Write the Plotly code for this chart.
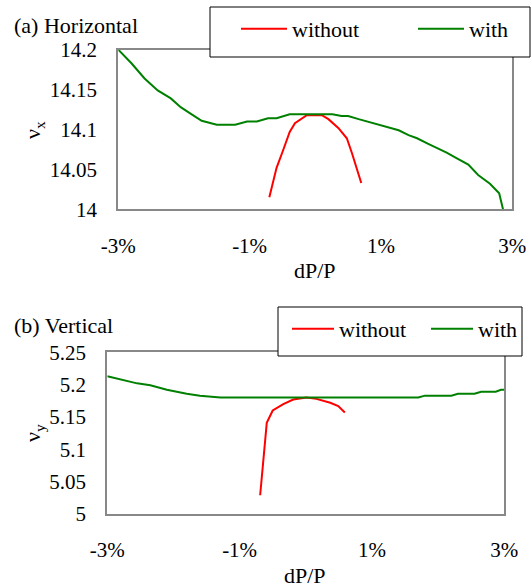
import plotly.graph_objects as go

# ---- data (dP/P in %) ----
h_with_x = [-3.0, -2.8, -2.6, -2.4, -2.2, -2.05, -1.9, -1.73, -1.5, -1.22, -1.04, -0.89, -0.72, -0.59,
            -0.39, 0.26, 0.4, 0.5, 0.66, 0.89, 1.09, 1.27, 1.42, 1.55, 1.72, 1.85, 2.0, 2.15, 2.33,
            2.48, 2.66, 2.8, 2.9]
h_with_y = [14.2, 14.183, 14.164, 14.149, 14.139, 14.128, 14.12, 14.111, 14.106, 14.106, 14.11, 14.11,
            14.114, 14.114, 14.119, 14.119, 14.117, 14.117, 14.113, 14.108, 14.103, 14.099, 14.093,
            14.089, 14.082, 14.077, 14.071, 14.064, 14.056, 14.043, 14.032, 14.02, 13.986]
h_without_x = [-0.7, -0.59, -0.49, -0.39, -0.31, -0.13, 0.1, 0.2, 0.35, 0.48, 0.56, 0.7]
h_without_y = [14.015, 14.052, 14.074, 14.097, 14.108, 14.118, 14.118, 14.113, 14.102, 14.089, 14.07, 14.033]

v_with_x = [-3.0, -2.8, -2.55, -2.35, -2.1, -1.8, -1.6, -1.29, 1.7, 1.8, 2.2, 2.3, 2.55, 2.65, 2.87, 2.95, 3.0]
v_with_y = [5.213, 5.208, 5.202, 5.199, 5.192, 5.186, 5.183, 5.18, 5.18, 5.183, 5.183, 5.186, 5.186,
            5.189, 5.189, 5.192, 5.192]
v_without_x = [-0.69, -0.59, -0.5, -0.34, -0.19, 0.01, 0.16, 0.37, 0.49, 0.59]
v_without_y = [5.029, 5.141, 5.16, 5.17, 5.177, 5.18, 5.178, 5.172, 5.167, 5.157]

x_tickvals = [-3, -1, 1, 3]
x_ticktext = ["-3%", "-1%", "1%", "3%"]
h_tickvals = [14, 14.05, 14.1, 14.15, 14.2]
h_ticktext = ["14", "14.05", "14.1", "14.15", "14.2"]
v_tickvals = [5, 5.05, 5.1, 5.15, 5.2, 5.25]
v_ticktext = ["5", "5.05", "5.1", "5.15", "5.2", "5.25"]

FONT = "Liberation Serif, Times New Roman, DejaVu Serif, serif"
FS_TICK = 21
FS = 22
W, H = 531, 587
RED = "#ff0000"
GREEN = "#008000"

fig = go.Figure()
fig.add_trace(go.Scatter(x=h_without_x, y=h_without_y, mode="lines", name="without",
                         line=dict(color=RED, width=2), xaxis="x", yaxis="y", legend="legend"))
fig.add_trace(go.Scatter(x=h_with_x, y=h_with_y, mode="lines", name="with",
                         line=dict(color=GREEN, width=2), xaxis="x", yaxis="y", legend="legend"))
fig.add_trace(go.Scatter(x=v_without_x, y=v_without_y, mode="lines", name="without",
                         line=dict(color=RED, width=2), xaxis="x2", yaxis="y2", legend="legend2"))
fig.add_trace(go.Scatter(x=v_with_x, y=v_with_y, mode="lines", name="with",
                         line=dict(color=GREEN, width=2), xaxis="x2", yaxis="y2", legend="legend2"))

axis_common = dict(showline=True, mirror=True, linecolor="#888888", linewidth=2, showgrid=False,
                   zeroline=False, ticks="", automargin=False,
                   tickfont=dict(family=FONT, size=FS_TICK, color="black"))

def px(x):
    return x / W

def py(y):
    return 1 - y / H

fig.update_layout(
    width=W, height=H, margin=dict(l=0, r=0, t=0, b=0, autoexpand=False),
    paper_bgcolor="white", plot_bgcolor="white",
    font=dict(family=FONT, size=FS, color="black"),
    xaxis=dict(domain=[px(118.3), px(512.3)], range=[-3, 3], tickvals=x_tickvals, ticktext=x_ticktext,
               anchor="y", ticklabelstandoff=16, **axis_common),
    yaxis=dict(domain=[py(209.3), py(49.7)], range=[14, 14.2], tickvals=h_tickvals, ticktext=h_ticktext,
               anchor="x", ticklabelstandoff=15, **axis_common),
    xaxis2=dict(domain=[px(107.3), px(504.3)], range=[-3, 3], tickvals=x_tickvals, ticktext=x_ticktext,
                anchor="y2", ticklabelstandoff=16, **axis_common),
    yaxis2=dict(domain=[py(514), py(352.3)], range=[5, 5.25], tickvals=v_tickvals, ticktext=v_ticktext,
                anchor="x2", ticklabelstandoff=15, **axis_common),
    legend=dict(x=px(236), y=py(8), xanchor="left", yanchor="top", orientation="h",
                borderwidth=0, bgcolor="rgba(0,0,0,0)",
                font=dict(family=FONT, size=FS, color="black"),
                entrywidth=116, entrywidthmode="pixels", itemwidth=46),
    legend2=dict(x=px(287), y=py(308), xanchor="left", yanchor="top", orientation="h",
                 borderwidth=0, bgcolor="rgba(0,0,0,0)",
                 font=dict(family=FONT, size=FS, color="black"),
                 entrywidth=82, entrywidthmode="pixels", itemwidth=42),
    showlegend=True,
)

# legend frames
fig.add_shape(type="rect", xref="paper", yref="paper", x0=px(210), x1=px(530), y0=py(57), y1=py(7),
              line=dict(color="black", width=1), fillcolor="white", layer="above")
fig.add_shape(type="rect", xref="paper", yref="paper", x0=px(278), x1=px(522), y0=py(356), y1=py(307),
              line=dict(color="black", width=1), fillcolor="white", layer="above")

annots = [
    dict(text="(a) Horizontal", x=px(12), y=py(25), xanchor="left", yanchor="middle"),
    dict(text="(b) Vertical", x=px(12), y=py(325), xanchor="left", yanchor="middle"),
    dict(text="dP/P", x=px(315), y=py(270), xanchor="center", yanchor="middle"),
    dict(text="dP/P", x=px(305), y=py(575), xanchor="center", yanchor="middle"),
    dict(text="ν<sub>x</sub>", x=px(34), y=py(130), xanchor="center", yanchor="middle", textangle=-90),
    dict(text="ν<sub>y</sub>", x=px(34), y=py(433), xanchor="center", yanchor="middle", textangle=-90),
]
for a in annots:
    fig.add_annotation(xref="paper", yref="paper", showarrow=False,
                       font=dict(family=FONT, size=FS, color="black"), **a)

fig.write_html("out.html", config={"displayModeBar": False},
               post_script="document.body.style.margin='0';document.body.style.overflow='hidden';")
